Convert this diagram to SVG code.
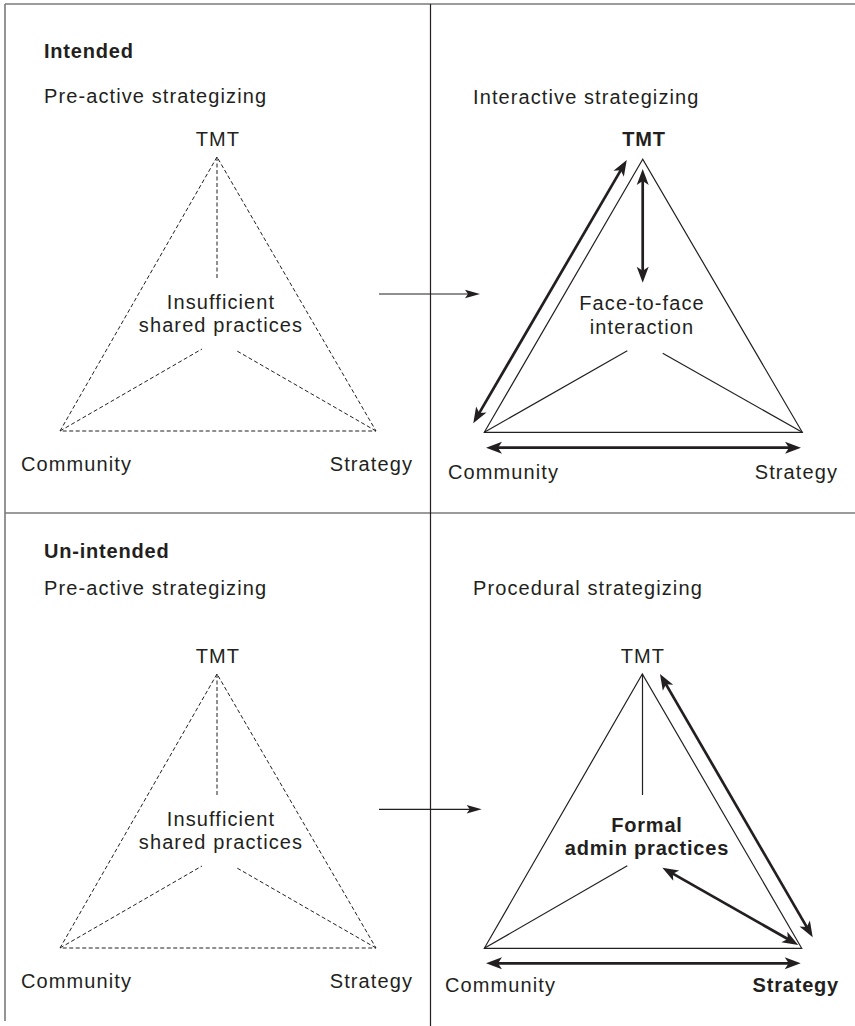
<svg xmlns="http://www.w3.org/2000/svg" width="855" height="1026" viewBox="0 0 855 1026">
  <style>
    text { font-family: "Liberation Sans", Arial, Helvetica, sans-serif; font-size: 20px; fill: #231f20; letter-spacing: 1.1px; }
    .b { font-weight: bold; letter-spacing: 0.8px; }
    .mid { text-anchor: middle; }
    .end { text-anchor: end; }
    .frame { stroke: #7a7a7a; stroke-width: 1.6; fill: none; }
    .divider { stroke: #231f20; stroke-width: 1.2; fill: none; }
    .dash { stroke: #231f20; stroke-width: 1; fill: none; stroke-dasharray: 4 2.5; }
    .thin { stroke: #231f20; stroke-width: 1.2; fill: none; }
    .thick { stroke: #231f20; stroke-width: 2.7; fill: none; marker-start: url(#head); marker-end: url(#head); }
    .flow { stroke: #231f20; stroke-width: 1.2; fill: none; marker-end: url(#headSmall); }
  </style>
  <defs>
    <marker id="head" markerUnits="userSpaceOnUse" viewBox="-9 -7 18 14" markerWidth="18" markerHeight="14" refX="0" refY="0" orient="auto-start-reverse">
      <path d="M8,0 L-8,-6 L-4,0 L-8,6 Z" fill="#231f20"/>
    </marker>
    <marker id="headSmall" markerUnits="userSpaceOnUse" viewBox="-10 -5 17 10" markerWidth="17" markerHeight="10" refX="0" refY="0" orient="auto">
      <path d="M6,0 L-9,-4.2 L-6,0 L-9,4.2 Z" fill="#231f20"/>
    </marker>
  </defs>

  <rect width="855" height="1026" fill="#ffffff"/>

  <!-- frame and quadrant dividers -->
  <g id="frame">
    <line class="frame" x1="5" y1="4" x2="855" y2="4"/>
    <line class="frame" x1="5" y1="4" x2="5" y2="1021"/>
    <line class="frame" x1="5" y1="513" x2="855" y2="513"/>
    <line class="divider" x1="430.5" y1="4" x2="430.5" y2="1026"/>
  </g>

  <!-- panel headings -->
  <g id="headings">
    <text class="b" x="44" y="58">Intended</text>
    <text x="44" y="103">Pre-active strategizing</text>
    <text x="473" y="104">Interactive strategizing</text>
    <text class="b" x="44" y="558">Un-intended</text>
    <text x="44" y="595">Pre-active strategizing</text>
    <text x="473" y="595">Procedural strategizing</text>
  </g>

  <!-- top-left: pre-active triangle -->
  <g id="tl-triangle">
    <polygon class="dash" points="217,157 60,431 376,431"/>
    <line class="dash" x1="217" y1="157" x2="217" y2="278"/>
    <line class="dash" x1="60" y1="431" x2="202" y2="349"/>
    <line class="dash" x1="376" y1="431" x2="237" y2="351"/>
  </g>
  <g id="tl-tmt"><text class="mid" x="218" y="146">TMT</text></g>
  <g id="tl-practices">
    <text class="mid" x="221" y="309">Insufficient</text>
    <text class="mid" x="221" y="332">shared practices</text>
  </g>
  <g id="tl-community"><text x="21" y="471">Community</text></g>
  <g id="tl-strategy"><text class="end" x="413" y="471">Strategy</text></g>

  <!-- top-right: interactive triangle -->
  <g id="tr-triangle">
    <polygon class="thin" points="642.7,159.3 484.3,432.3 802.3,432.3"/>
    <line class="thin" x1="484.3" y1="432.3" x2="627.3" y2="350.7"/>
    <line class="thin" x1="802.3" y1="432.3" x2="662.7" y2="353.3"/>
  </g>
  <g id="tr-tmt"><text class="b mid" x="644" y="146">TMT</text></g>
  <g id="tr-interaction">
    <text class="mid" x="642" y="310">Face-to-face</text>
    <text class="mid" x="642" y="334">interaction</text>
  </g>
  <g id="tr-community"><text x="448" y="479">Community</text></g>
  <g id="tr-strategy"><text class="end" x="838" y="479">Strategy</text></g>

  <!-- bottom-left: pre-active triangle -->
  <g id="bl-triangle">
    <polygon class="dash" points="217,674 60,948 376,948"/>
    <line class="dash" x1="217" y1="674" x2="217" y2="795"/>
    <line class="dash" x1="60" y1="948" x2="202" y2="866"/>
    <line class="dash" x1="376" y1="948" x2="237" y2="868"/>
  </g>
  <g id="bl-tmt"><text class="mid" x="218" y="663">TMT</text></g>
  <g id="bl-practices">
    <text class="mid" x="221" y="826">Insufficient</text>
    <text class="mid" x="221" y="849">shared practices</text>
  </g>
  <g id="bl-community"><text x="21" y="988">Community</text></g>
  <g id="bl-strategy"><text class="end" x="413" y="988">Strategy</text></g>

  <!-- bottom-right: procedural triangle -->
  <g id="br-triangle">
    <polygon class="thin" points="642.3,674 484.3,948.3 801.7,948.3"/>
    <line class="thin" x1="642.5" y1="674" x2="642.5" y2="795"/>
    <line class="thin" x1="484.3" y1="948.3" x2="627.3" y2="865.7"/>
  </g>
  <g id="br-tmt"><text class="mid" x="643" y="663">TMT</text></g>
  <g id="br-practices">
    <text class="b mid" x="647" y="832">Formal</text>
    <text class="b mid" x="647" y="855">admin practices</text>
  </g>
  <g id="br-community"><text x="445" y="992">Community</text></g>
  <g id="br-strategy"><text class="b end" x="839" y="992">Strategy</text></g>

  <!-- connectors -->
  <g id="connectors">
    <line class="flow" x1="379" y1="294" x2="474" y2="294"/>
    <line class="flow" x1="379" y1="809.3" x2="475.7" y2="809.3"/>

    <line class="thick" x1="642.7" y1="177" x2="642.7" y2="274.7"/>
    <line class="thick" x1="622.7" y1="166.9" x2="477.3" y2="416.4"/>
    <line class="thick" x1="494" y1="447.7" x2="793" y2="447.7"/>

    <line class="thick" x1="664" y1="680.9" x2="808.7" y2="930.4"/>
    <line class="thick" x1="669.3" y1="871.7" x2="791.3" y2="941"/>
    <line class="thick" x1="494" y1="963.3" x2="792.7" y2="963.3"/>
  </g>
</svg>
